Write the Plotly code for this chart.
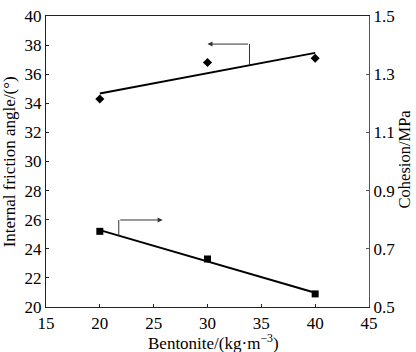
import numpy as np
import plotly.graph_objects as go

bentonite = [20, 30, 40]
friction_angle = [34.3, 36.8, 37.1]
cohesion = [0.76, 0.665, 0.545]

x_ticks = [15, 20, 25, 30, 35, 40, 45]
y_ticks = [20, 22, 24, 26, 28, 30, 32, 34, 36, 38, 40]
y2_ticks = [0.5, 0.7, 0.9, 1.1, 1.3, 1.5]

FONT = "Liberation Serif"
AX = "#222222"

fig = go.Figure()

# regression lines
xf = np.array([bentonite[0], bentonite[-1]], dtype=float)
p1 = np.polyfit(bentonite, friction_angle, 1)
p2 = np.polyfit(bentonite, cohesion, 1)

fig.add_trace(go.Scatter(x=xf, y=np.polyval(p1, xf), mode="lines",
                         line=dict(color="black", width=2), showlegend=False))
fig.add_trace(go.Scatter(x=bentonite, y=friction_angle, mode="markers",
                         marker=dict(symbol="diamond", size=7, color="black"),
                         showlegend=False))
fig.add_trace(go.Scatter(x=xf, y=np.polyval(p2, xf), mode="lines", yaxis="y2",
                         line=dict(color="black", width=2), showlegend=False))
fig.add_trace(go.Scatter(x=bentonite, y=cohesion, mode="markers", yaxis="y2",
                         marker=dict(symbol="square", size=7, color="black"),
                         showlegend=False))

# indicator arrows
ax1_x = 33.9
ax1_y = 38.07
fig.add_shape(type="line", x0=ax1_x, x1=ax1_x, y0=ax1_y, y1=float(np.polyval(p1, ax1_x)),
              xref="x", yref="y", line=dict(color="#333", width=1))
fig.add_annotation(x=30.0, y=ax1_y, ax=ax1_x, ay=ax1_y, xref="x", yref="y",
                   axref="x", ayref="y", showarrow=True, arrowhead=2, arrowsize=1,
                   arrowwidth=1, arrowcolor="#333", text="")
ax2_x = 21.76
ax2_y = 25.98
fig.add_shape(type="line", x0=ax2_x, x1=ax2_x, y0=ax2_y,
              y1=20 + (float(np.polyval(p2, ax2_x)) - 0.5) * 20,
              xref="x", yref="y", line=dict(color="#333", width=1))
fig.add_annotation(x=25.83, y=ax2_y, ax=ax2_x, ay=ax2_y, xref="x", yref="y",
                   axref="x", ayref="y", showarrow=True, arrowhead=2, arrowsize=1,
                   arrowwidth=1, arrowcolor="#333", text="")

# axis titles as annotations
fig.add_annotation(text="Internal friction angle/(°)", xref="paper", yref="paper",
                   x=-0.112, y=0.5, xanchor="center", yanchor="middle", textangle=-90,
                   showarrow=False, font=dict(family=FONT, size=17, color="black"))
fig.add_annotation(text="Cohesion/MPa", xref="paper", yref="paper",
                   x=1.111, y=0.51, xanchor="center", yanchor="middle", textangle=-90,
                   showarrow=False, font=dict(family=FONT, size=16.5, color="black"))
fig.add_annotation(text="Bentonite/(kg·m<sup>−3</sup>)", xref="paper", yref="paper",
                   x=0.52, y=-0.12, xanchor="center", yanchor="middle",
                   showarrow=False, font=dict(family=FONT, size=17, color="black"))

fig.update_layout(
    width=416, height=352,
    margin=dict(l=46, r=47, t=7, b=45),
    paper_bgcolor="white", plot_bgcolor="white",
    font=dict(family=FONT, size=17, color="black"),
    xaxis=dict(range=[15, 45], tickvals=x_ticks, ticks="inside", ticklen=3,
               showgrid=False, zeroline=False, showline=True, linecolor=AX,
               linewidth=1.3, mirror=True, tickcolor=AX,
               tickfont=dict(family=FONT, size=17), ticklabeloverflow="allow"),
    yaxis=dict(range=[20, 40], tickvals=y_ticks, ticks="inside", ticklen=3,
               showgrid=False, zeroline=False, showline=True, linecolor=AX,
               linewidth=1.3, tickcolor=AX,
               tickfont=dict(family=FONT, size=17), ticklabeloverflow="allow"),
    yaxis2=dict(range=[0.5, 1.5], tickvals=y2_ticks, ticktext=[f"{v:.1f}" for v in y2_ticks],
                overlaying="y", side="right", ticks="inside", ticklen=3,
                showgrid=False, zeroline=False, showline=True, linecolor="#555",
                linewidth=1.3, tickcolor="#555",
                tickfont=dict(family=FONT, size=17), ticklabeloverflow="allow"),
)

fig.write_html("out.html")
